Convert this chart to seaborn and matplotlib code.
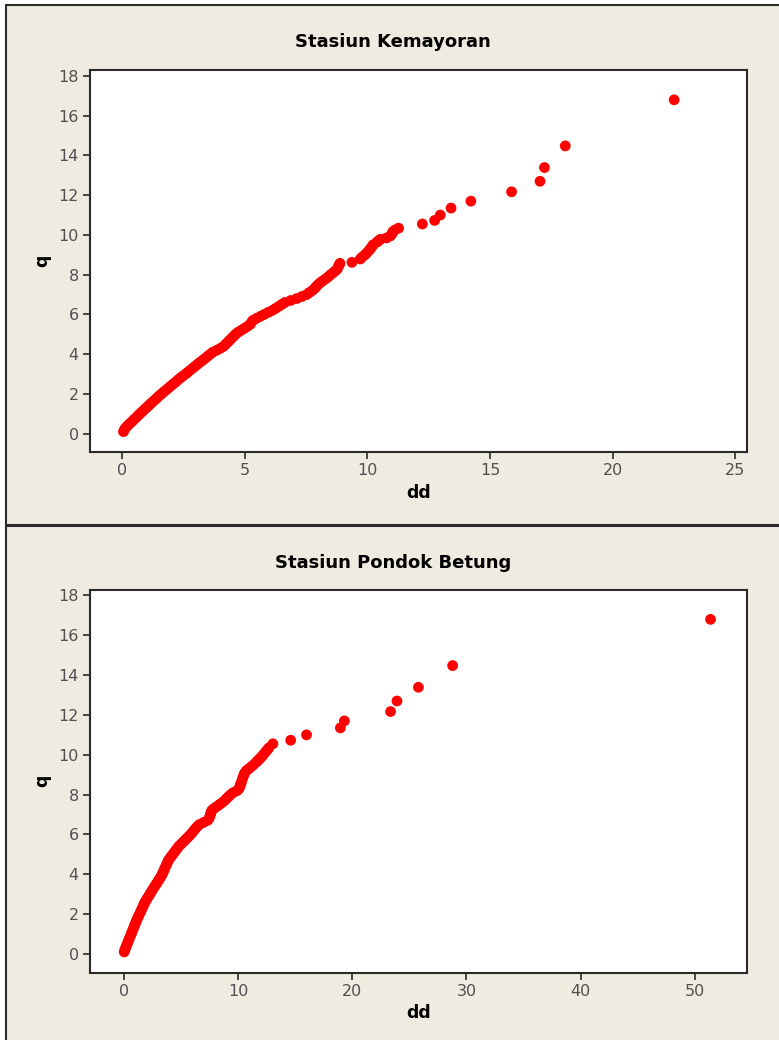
import matplotlib
matplotlib.use("Agg")
import matplotlib.pyplot as plt
import seaborn as sns
import pandas as pd
from matplotlib.patches import Rectangle
from matplotlib.lines import Line2D

# ---------------- data ----------------
q = [0.1, 0.2, 0.3, 0.4, 0.5, 0.6, 0.7, 0.8, 0.9, 1.0,
     1.1, 1.2, 1.3, 1.4, 1.5, 1.6, 1.7, 1.8, 1.9, 2.0,
     2.1, 2.2, 2.3, 2.4, 2.5, 2.6, 2.7, 2.8, 2.9, 3.0,
     3.1, 3.2, 3.3, 3.4, 3.5, 3.6, 3.7, 3.8, 3.9, 4.0,
     4.1, 4.2, 4.3, 4.4, 4.5, 4.6, 4.7, 4.8, 4.9, 5.0,
     5.1, 5.2, 5.3, 5.4, 5.5, 5.6, 5.7, 5.8, 5.9, 6.0,
     6.1, 6.2, 6.3, 6.4, 6.5, 6.6, 6.7, 6.8, 6.9, 7.0,
     7.1, 7.2, 7.3, 7.4, 7.5, 7.6, 7.7, 7.8, 7.9, 8.0,
     8.1, 8.2, 8.3, 8.4, 8.5,
     8.57, 8.62, 8.79, 8.90, 9.00, 9.08, 9.20, 9.30, 9.40, 9.50,
     9.63, 9.70, 9.78, 9.85, 9.95, 10.05, 10.17, 10.25, 10.34, 10.55,
     10.73, 11.00, 11.35, 11.70, 12.17, 12.70, 13.39, 14.48, 16.80]

dd_kemayoran = [0.05, 0.09, 0.14, 0.22, 0.30, 0.39, 0.47, 0.56, 0.64, 0.72,
                0.81, 0.89, 0.98, 1.07, 1.15, 1.24, 1.33, 1.42, 1.50, 1.60,
                1.69, 1.79, 1.89, 1.98, 2.08, 2.18, 2.27, 2.37, 2.47, 2.58,
                2.68, 2.78, 2.88, 2.98, 3.08, 3.18, 3.29, 3.39, 3.49, 3.59,
                3.69, 3.86, 4.01, 4.14, 4.22, 4.30, 4.38, 4.46, 4.54, 4.62,
                4.72, 4.85, 4.98, 5.11, 5.22, 5.27, 5.33, 5.47, 5.63, 5.79,
                5.95, 6.12, 6.25, 6.38, 6.50, 6.63, 6.87, 7.12, 7.33, 7.52,
                7.63, 7.75, 7.84, 7.91, 7.99, 8.08, 8.19, 8.31, 8.41, 8.50,
                8.60, 8.70, 8.78, 8.81, 8.85,
                8.88, 9.37, 9.71, 9.80, 9.90, 9.96, 10.05, 10.12, 10.18, 10.23,
                10.38, 10.45, 10.53, 10.78, 10.94, 11.00, 11.04, 11.12, 11.27, 12.24,
                12.74, 12.97, 13.41, 14.22, 15.88, 17.04, 17.22, 18.07, 22.51]

dd_pondok_betung = [0.00, 0.05, 0.12, 0.19, 0.26, 0.33, 0.40, 0.47, 0.54, 0.61,
                    0.68, 0.75, 0.82, 0.89, 0.96, 1.03, 1.10, 1.18, 1.26, 1.34,
                    1.42, 1.50, 1.58, 1.66, 1.74, 1.82, 1.93, 2.03, 2.14, 2.25,
                    2.36, 2.46, 2.57, 2.68, 2.80, 2.91, 3.02, 3.13, 3.24, 3.33,
                    3.41, 3.48, 3.56, 3.64, 3.72, 3.80, 3.87, 4.00, 4.13, 4.26,
                    4.39, 4.52, 4.65, 4.78, 4.96, 5.13, 5.31, 5.48, 5.66, 5.82,
                    5.97, 6.11, 6.26, 6.41, 6.60, 6.95, 7.30, 7.44, 7.50, 7.55,
                    7.61, 7.67, 7.86, 8.11, 8.35, 8.59, 8.80, 8.97, 9.15, 9.33,
                    9.55, 9.90, 10.07, 10.13, 10.19,
                    10.24, 10.27, 10.36, 10.43, 10.50, 10.56, 10.70, 10.93, 11.14, 11.35,
                    11.58, 11.70, 11.84, 11.96, 12.12, 12.26, 12.43, 12.55, 12.67, 13.03,
                    14.59, 15.98, 18.95, 19.30, 23.35, 23.91, 25.79, 28.79, 51.40]

titles = ["Stasiun Kemayoran", "Stasiun Pondok Betung"]
x_label = "dd"
y_label = "q"
x_ticks_kemayoran = [0, 5, 10, 15, 20, 25]
x_ticks_pondok = [0, 10, 20, 30, 40, 50]
y_ticks = [0, 2, 4, 6, 8, 10, 12, 14, 16, 18]

# ---------------- style ----------------
sns.set_theme(style="white")
plt.rcParams['font.family'] = ['DejaVu Sans']
BEIGE = "#EFEBE1"
RED = "#FF0000"
SPINE = "#2a2a2a"
TICKCOL = "#505050"

W, H = 779, 1040
fig = plt.figure(figsize=(W / 100, H / 100), dpi=100)
fig.patch.set_facecolor("white")

# panel backgrounds and borders
fig.patches.append(Rectangle((6 / W, 0), 1 - 6 / W, (H - 5) / H,
                             transform=fig.transFigure, facecolor=BEIGE,
                             edgecolor="none", zorder=-10))
for (x0, y0, x1, y1, lw) in [(6, 5, 6, H, 1.5), (6, 5, W, 5, 1.5), (6, 525, W, 525, 2.2)]:
    fig.lines.append(Line2D([x0 / W, x1 / W], [1 - y0 / H, 1 - y1 / H],
                            transform=fig.transFigure, color=SPINE, lw=lw))


def make_axes(top_px, bottom_px):
    left_px, right_px = 89.9, 746.7
    return fig.add_axes([left_px / W, 1 - bottom_px / H,
                         (right_px - left_px) / W, (bottom_px - top_px) / H])


panels = [
    dict(dd=dd_kemayoran, title=titles[0], xticks=x_ticks_kemayoran,
         xlim=(-1.32, 25.47), ylim=(-0.94, 18.3), top=70, bottom=452.3,
         title_y=42, xlab_y=493),
    dict(dd=dd_pondok_betung, title=titles[1], xticks=x_ticks_pondok,
         xlim=(-3.01, 54.57), ylim=(-0.95, 18.3), top=589.5, bottom=972.8,
         title_y=563, xlab_y=1013),
]

for p in panels:
    ax = make_axes(p["top"], p["bottom"])
    ax.set_facecolor("white")
    df = pd.DataFrame({"dd": p["dd"], "q": q})
    sns.scatterplot(data=df, x="dd", y="q", ax=ax, color=RED, s=60,
                    linewidth=0, edgecolor="none", alpha=1.0, zorder=3)
    ax.set_xlim(*p["xlim"])
    ax.set_ylim(*p["ylim"])
    ax.set_xticks(p["xticks"])
    ax.set_yticks(y_ticks)
    ax.set_xticklabels([str(t) for t in p["xticks"]])
    ax.set_yticklabels([str(t) for t in y_ticks])
    for s in ax.spines.values():
        s.set_color(SPINE)
        s.set_linewidth(1.5)
        s.set_visible(True)
    ax.tick_params(axis="both", direction="out", length=5, width=1.2,
                   color=SPINE, labelcolor=TICKCOL, labelsize=11.5, pad=3)
    ax.tick_params(axis="x", bottom=True, top=False)
    ax.tick_params(axis="y", left=True, right=False)
    ax.grid(False)

    h_px = p["bottom"] - p["top"]
    ax.set_xlabel(x_label, fontsize=12.5, fontweight="bold", color="black")
    ax.xaxis.label.set_va("center")
    ax.xaxis.set_label_coords(0.5, -(p["xlab_y"] - p["bottom"]) / h_px)
    ax.set_ylabel(y_label, fontsize=12.5, fontweight="bold", color="black")
    ax.yaxis.label.set_va("center")
    ax.yaxis.set_label_coords((42 - 89.9) / (746.7 - 89.9), 0.5)

    fig.text(393 / W, 1 - p["title_y"] / H, p["title"], ha="center",
             va="center", fontsize=13, fontweight="bold", color="black")

fig.savefig("out.png", dpi=100, facecolor=fig.get_facecolor())
